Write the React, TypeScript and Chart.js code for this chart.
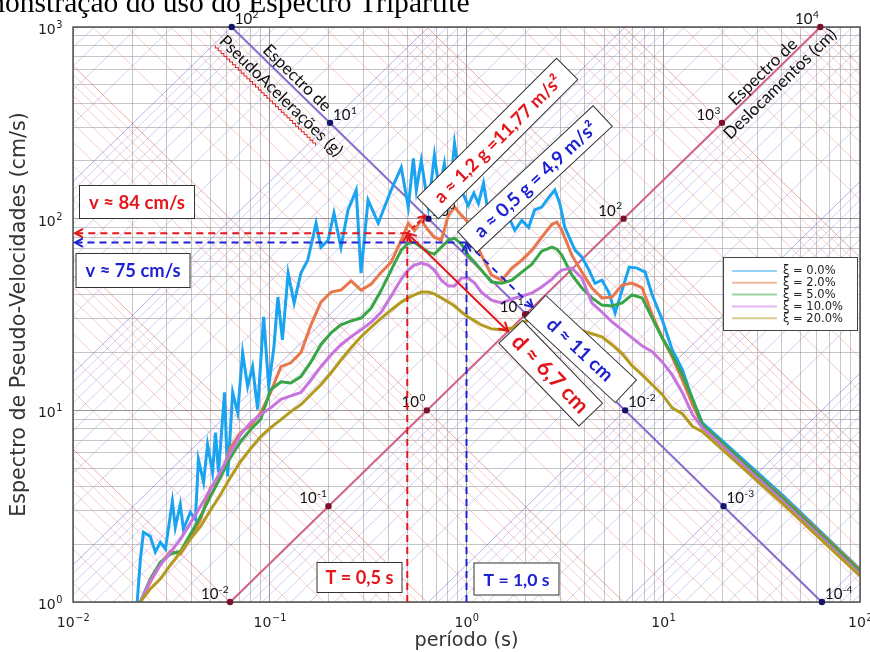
import React, { useEffect, useRef } from 'react';
import { Chart, registerables } from 'chart.js';

Chart.register(...registerables);

// ---------------- data ----------------
const seriesLabels = ['ξ = 0.0%', 'ξ = 2.0%', 'ξ = 5.0%', 'ξ = 10.0%', 'ξ = 20.0%'];
const seriesColors = ['#1AA3F0', '#E9774C', '#3AA547', '#C874DE', '#B39B1F'];
const legendColors = ['#92D2F7', '#F2B8A0', '#9DD3A3', '#E2B6EE', '#D9CC8F'];

// ξ = 0 % (own period grid, very jagged)
const periods0 = [
  0.0212, 0.022, 0.0228, 0.0247, 0.0262, 0.0278, 0.0295, 0.032, 0.0331, 0.0351,
  0.0364, 0.0395, 0.0419, 0.0434, 0.0461, 0.0483, 0.0512, 0.053, 0.0549, 0.0589,
  0.0611, 0.0648, 0.0687, 0.0728, 0.0772, 0.0818, 0.0868, 0.0931, 0.0988, 0.105,
  0.11, 0.116, 0.124, 0.133, 0.144, 0.156, 0.172, 0.182, 0.198, 0.212,
  0.23, 0.25, 0.275, 0.291, 0.316, 0.356, 0.414, 0.466, 0.506, 0.537,
  0.556, 0.589, 0.64, 0.687, 0.727, 0.772, 0.818, 0.869, 0.942, 1.02,
  1.09, 1.15, 1.22, 1.29, 1.39, 1.51, 1.64, 1.76, 1.91, 2.07,
  2.22, 2.41, 2.62, 2.81, 2.98, 3.16, 3.56, 3.86, 4.19, 4.5,
  4.88, 5.3, 5.69, 6.18, 6.71, 7.37, 8.09, 8.79, 9.89, 11.1,
  12.5, 14.1, 15.8, 40.5, 100,
];
const psv0 = [
  1.0, 1.67, 2.31, 2.2, 1.82, 2.05, 1.89, 3.35, 2.45, 3.23,
  2.4, 2.94, 2.7, 5.54, 4.21, 6.63, 4.74, 7.66, 4.74, 12.4,
  4.52, 12.4, 9.73, 19.9, 13.3, 16.9, 10.1, 30.7, 13.3, 21.4,
  39.0, 23.3, 52.0, 36.3, 52.0, 60.8, 94.7, 71.0, 77.2, 107,
  71.0, 111, 141, 52.0, 125, 94.7, 141, 185, 115, 206,
  141, 201, 115, 214, 141, 194, 125, 247, 141, 117,
  136, 120, 153, 107, 115, 94.7, 102, 87, 98, 90,
  111, 115, 129, 141, 120, 90, 68.5, 63, 54, 46,
  47.8, 41, 32.2, 42.4, 55.9, 55.2, 52.6, 40, 29.6, 20.7,
  16.3, 11.4, 8.6, 3.6, 1.48,
];

// shared period grid for the damped curves
const periods = [
  0.022, 0.0247, 0.0278, 0.0313, 0.0352, 0.0395, 0.0445, 0.05, 0.0562, 0.0632,
  0.0711, 0.08, 0.09, 0.101, 0.114, 0.128, 0.144, 0.162, 0.182, 0.205,
  0.23, 0.259, 0.291, 0.328, 0.369, 0.414, 0.466,
  0.506, 0.543, 0.589, 0.639, 0.686, 0.745, 0.809, 0.869, 0.943, 1.02, 1.1, 1.19,
  1.34, 1.51, 1.7, 1.91, 2.15, 2.41, 2.72,
  2.88, 3.05,
  3.43, 3.86, 4.34, 4.88, 5.49, 6.18, 6.95, 7.81, 8.79, 9.88, 11.1, 12.5, 14.1, 15.8,
  40.5, 100,
];
const psv2 = [
  1.0, 1.27, 1.58, 1.84, 1.78, 2.13, 2.7, 3.96, 4.47, 6.4,
  7.66, 8.33, 9.73, 12.4, 16.9, 17.7, 20.0, 27.9, 36.7, 41.4,
  42.4, 47.3, 42.4, 45.6, 52.6, 59.3, 77.2,
  94.6, 87.0, 98.1, 87.0, 80.0, 77.2, 104, 115, 104, 95.8, 77.2, 64.5,
  50.8, 47.8, 55.2, 60.8, 68.5, 80.0, 93.5,
  95.8, 87.0,
  64.5, 52.6, 43.5, 38.6, 39.0, 45.0, 46.1, 43.5, 31.5, 23.9, 19.0, 14.4, 10.7, 8.33,
  3.52, 1.47,
];
const psv5 = [
  1.0, 1.32, 1.61, 1.78, 1.84, 2.26, 2.8, 3.56, 4.47, 5.68,
  6.88, 7.94, 9.0, 12.8, 14.1, 13.9, 15.0, 17.9, 22.0, 25.4,
  27.9, 29.3, 30.3, 34.2, 42.4, 53.9, 68.5,
  74.5, 75.4, 71.0, 66.9, 65.3, 71.0, 77.2, 79.1, 73.6, 64.5, 59.3, 53.9,
  46.7, 46.1, 47.8, 52.6, 57.9, 67.7, 71.0,
  69.3, 64.5,
  50.8, 43.5, 38.6, 35.4, 35.0, 36.3, 40.0, 38.6, 30.3, 23.9, 19.5, 15.3, 11.4, 8.43,
  3.47, 1.45,
];
const psv10 = [
  1.0, 1.29, 1.56, 1.82, 2.13, 2.58, 3.16, 3.87, 4.8, 6.03,
  7.48, 8.63, 9.5, 10.3, 11.4, 11.9, 12.4, 14.4, 16.9, 19.5,
  22.0, 24.2, 26.3, 28.9, 32.6, 39.5, 48.4,
  53.9, 57.2, 58.6, 57.2, 53.9, 47.8, 44.5, 44.5, 49.0, 49.0, 46.1, 41.4,
  37.6, 36.3, 38.1, 39.5, 40.9, 44.0, 48.4,
  51.4, 53.9,
  55.2, 49.0, 36.3, 32.6, 28.9, 26.3, 23.9, 21.7, 20.2, 17.9, 15.3, 12.4, 9.5, 8.13,
  3.35, 1.4,
];
const psv20 = [
  1.0, 1.17, 1.32, 1.56, 1.82, 2.13, 2.48, 3.01, 3.64, 4.47,
  5.41, 6.32, 7.3, 8.13, 8.95, 9.85, 10.7, 12.1, 13.6, 15.7,
  18.3, 21.2, 24.2, 27.2, 30.3, 33.4, 36.7,
  38.6, 40.0, 41.4, 41.4, 40.5, 38.6, 36.7, 35.0, 32.6, 30.7, 29.3, 27.9,
  26.6, 26.3, 26.9, 28.6, 30.0, 31.1, 31.1,
  30.7, 29.6,
  27.9, 26.0, 25.1, 24.2, 22.0, 19.7, 17.1, 15.3, 13.6, 12.1, 10.3, 9.6, 8.23, 7.75,
  3.25, 1.37,
];

// axes (decade ticks, labelled 10^exp)
const xDecades = [0.01, 0.1, 1, 10, 100];
const xDecadeExps = [-2, -1, 0, 1, 2];
const yDecades = [1, 10, 100, 1000];
const yDecadeExps = [0, 1, 2, 3];

// tripartite axes
const accelAxisExps = [2, 1, 0, -1, -2, -3, -4]; // g
const accelAxisLabelled = [2, 1, 0, -2, -3, -4];
const dispAxisExps = [-2, -1, 0, 1, 2, 3, 4]; // cm
const gridMultipliers = [1, 2, 3, 4, 5, 6, 7, 8, 9];
const dispGridExps = [-3, -2, -1, 0, 1, 2, 3, 4];
const accelGridExps = [-5, -4, -3, -2, -1, 0, 1, 2];

// annotation readings
const redT = 0.5;
const redV = 84;
const blueT = 1.0;
const blueV = 75;

// ---------------- helpers ----------------
const G = 981;
const TWO_PI = 2 * Math.PI;
const A_ANCHOR_G = 100;
const A_ANCHOR_V = 1000;
const D_ANCHOR_CM = 1e4;
const D_ANCHOR_V = 1000;
const cA = A_ANCHOR_V * (TWO_PI * A_ANCHOR_V / (G * A_ANCHOR_G)); // V*T on accel axis
const kD = D_ANCHOR_V / (TWO_PI * D_ANCHOR_CM / D_ANCHOR_V); // V/T on disp axis

const accelPoint = (a: number) => {
  const T = Math.sqrt(TWO_PI * cA / (a * G));
  return { T, V: cA / T };
};
const dispPoint = (d: number) => {
  const T = Math.sqrt(TWO_PI * d / kD);
  return { T, V: kD * T };
};

const isDecade = (v: number, list: number[]) =>
  list.findIndex((d) => Math.abs(Math.log10(v) - Math.log10(d)) < 1e-6);

const buildTicks = (lo: number, hi: number) => {
  const out: number[] = [];
  for (let e = lo; e < hi; e++) for (const m of gridMultipliers) out.push(m * Math.pow(10, e));
  out.push(Math.pow(10, hi));
  return out;
};

const F_TICK = '"DejaVu Sans", sans-serif';
const F_NOTE = 'Lato, "Liberation Sans", sans-serif';
const F_TITLE = '"Liberation Serif", "Times New Roman", serif';
const RED = '#E3161C';
const BLUE = '#1E22D2';

function fitSize(ctx: CanvasRenderingContext2D, text: string, weight: string, family: string, target: number) {
  ctx.font = `${weight} 20px ${family}`;
  return (20 * target) / ctx.measureText(text).width;
}

function drawPow(
  ctx: CanvasRenderingContext2D, exp: number, x: number, y: number, size: number,
  align: 'left' | 'right' | 'center', family: string, color: string, minus: string, supScale = 0.68,
) {
  const sup = exp < 0 ? minus + Math.abs(exp) : String(exp);
  ctx.font = `${size}px ${family}`;
  const wb = ctx.measureText('10').width;
  ctx.font = `${size * supScale}px ${family}`;
  const ws = ctx.measureText(sup).width;
  const total = wb + ws;
  const x0 = align === 'left' ? x : align === 'right' ? x - total : x - total / 2;
  ctx.fillStyle = color;
  ctx.textAlign = 'left';
  ctx.textBaseline = 'alphabetic';
  ctx.font = `${size}px ${family}`;
  ctx.fillText('10', x0, y);
  ctx.font = `${size * supScale}px ${family}`;
  ctx.fillText(sup, x0 + wb + 0.5, y - size * 0.42);
}

function arrowHead(ctx: CanvasRenderingContext2D, x0: number, y0: number, x1: number, y1: number, size: number) {
  const ang = Math.atan2(y1 - y0, x1 - x0);
  ctx.save();
  ctx.setLineDash([]);
  ctx.beginPath();
  ctx.moveTo(x1 - size * Math.cos(ang - 0.5), y1 - size * Math.sin(ang - 0.5));
  ctx.lineTo(x1, y1);
  ctx.lineTo(x1 - size * Math.cos(ang + 0.5), y1 - size * Math.sin(ang + 0.5));
  ctx.stroke();
  ctx.restore();
}

function seg(ctx: CanvasRenderingContext2D, x0: number, y0: number, x1: number, y1: number) {
  ctx.beginPath();
  ctx.moveTo(x0, y0);
  ctx.lineTo(x1, y1);
  ctx.stroke();
}

function textBox(
  ctx: CanvasRenderingContext2D, text: string, color: string, cx: number, cy: number,
  angleDeg: number, bw: number, bh: number, tw: number,
) {
  ctx.save();
  ctx.translate(cx, cy);
  ctx.rotate((angleDeg * Math.PI) / 180);
  ctx.fillStyle = '#ffffff';
  ctx.fillRect(-bw / 2, -bh / 2, bw, bh);
  ctx.strokeStyle = '#333';
  ctx.lineWidth = 1;
  ctx.setLineDash([]);
  ctx.strokeRect(-bw / 2, -bh / 2, bw, bh);
  const size = Math.min(fitSize(ctx, text, 'bold', F_NOTE, tw), bh * 0.72);
  ctx.font = `bold ${size}px ${F_NOTE}`;
  ctx.fillStyle = color;
  ctx.textAlign = 'center';
  ctx.textBaseline = 'middle';
  ctx.fillText(text, 0, 1);
  ctx.restore();
}

function rotText(ctx: CanvasRenderingContext2D, text: string, cx: number, cy: number, angleDeg: number, tw: number, family: string, color: string, weight = 'normal') {
  ctx.save();
  ctx.translate(cx, cy);
  ctx.rotate((angleDeg * Math.PI) / 180);
  const size = fitSize(ctx, text, weight, family, tw);
  ctx.font = `${weight} ${size}px ${family}`;
  ctx.fillStyle = color;
  ctx.textAlign = 'center';
  ctx.textBaseline = 'middle';
  ctx.fillText(text, 0, 0);
  ctx.restore();
  return size;
}

// ---------------- overlay plugin ----------------
const overlayPlugin = {
  id: 'tripartiteOverlay',
  afterDatasetsDraw(chart: any) {
    const ctx: CanvasRenderingContext2D = chart.ctx;
    const ca = chart.chartArea;
    const xs = chart.scales.x;
    const ys = chart.scales.y;
    const px = (t: number) => xs.getPixelForValue(t);
    const py = (v: number) => ys.getPixelForValue(v);
    ctx.save();

    // frame
    ctx.strokeStyle = '#555';
    ctx.lineWidth = 1.5;
    ctx.strokeRect(ca.left, ca.top, ca.right - ca.left, ca.bottom - ca.top);

    // decade tick labels (math style 10^n) at the scales' tick positions
    xDecades.forEach((d, i) => {
      drawPow(ctx, xDecadeExps[i], px(d), ca.bottom + 25, 14, 'center', F_TICK, '#222', '\u2212', 0.7);
    });
    yDecades.forEach((d, i) => {
      drawPow(ctx, yDecadeExps[i], ca.left - 11, py(d) + 7, 14, 'right', F_TICK, '#222', '\u2212', 0.7);
    });

    // tripartite axis dots and labels
    for (const e of accelAxisExps) {
      const p = accelPoint(Math.pow(10, e));
      const x = px(p.T), y = py(p.V);
      ctx.fillStyle = '#14146A';
      ctx.beginPath();
      ctx.arc(x, y, 3.2, 0, TWO_PI);
      ctx.fill();
      if (accelAxisLabelled.includes(e)) drawPow(ctx, e, x + 3, y - 3, 15, 'left', F_NOTE, '#111', '-');
    }
    for (const e of dispAxisExps) {
      const p = dispPoint(Math.pow(10, e));
      const x = px(p.T), y = py(p.V);
      ctx.fillStyle = '#7E0F2A';
      ctx.beginPath();
      ctx.arc(x, y, 3.2, 0, TWO_PI);
      ctx.fill();
      drawPow(ctx, e, x - 2, y - 3, 15, 'right', F_NOTE, '#111', '-');
    }

    // tripartite axis titles
    const ang = (Math.atan2(py(1) - py(10), px(10) - px(1)) * 180) / Math.PI; // ~44°
    rotText(ctx, 'Espectro de', 297, 78, ang, 88, F_NOTE, '#111');
    const s2 = rotText(ctx, 'PseudoAcelerações (g)', 281, 96, ang, 165, F_NOTE, '#111');
    // spell-check squiggle
    ctx.save();
    ctx.translate(281, 96);
    ctx.rotate((ang * Math.PI) / 180);
    ctx.font = `${s2}px ${F_NOTE}`;
    const wAll = ctx.measureText('PseudoAcelerações (g)').width;
    const wWord = ctx.measureText('PseudoAcelerações').width;
    ctx.strokeStyle = '#E0201E';
    ctx.lineWidth = 1;
    ctx.beginPath();
    let k = 0;
    for (let xx = -wAll / 2; xx <= -wAll / 2 + wWord; xx += 2) {
      ctx.lineTo(xx, s2 * 0.62 + (k % 2 === 0 ? -1 : 1));
      k++;
    }
    ctx.stroke();
    ctx.restore();
    rotText(ctx, 'Espectro de', 763, 72, -ang, 88, F_NOTE, '#111');
    rotText(ctx, 'Deslocamentos (cm)', 780, 84, -ang, 150, F_NOTE, '#111');

    // ---- annotations ----
    const xr = px(redT), yr = py(redV);
    const xb = px(blueT), yb = py(blueV);
    ctx.lineWidth = 2;
    ctx.setLineDash([7, 5]);
    // red dashed
    ctx.strokeStyle = RED;
    seg(ctx, xr, yr, ca.left + 2, yr);
    seg(ctx, xr, ca.bottom, xr, yr + 1);
    // blue dashed
    ctx.strokeStyle = BLUE;
    seg(ctx, xb, yb, ca.left + 2, yb);
    seg(ctx, xb, ca.bottom, xb, yb + 1);
    // blue dashed to displacement axis
    const dB = dispPoint((blueV * blueT) / TWO_PI);
    seg(ctx, xb, yb, px(dB.T), py(dB.V));
    ctx.setLineDash([]);
    arrowHead(ctx, xb, yb, px(dB.T), py(dB.V), 9);
    arrowHead(ctx, ca.left + 20, yb, ca.left + 2, yb, 9);
    arrowHead(ctx, xb, yb + 20, xb, yb + 1, 9);
    ctx.strokeStyle = RED;
    arrowHead(ctx, ca.left + 20, yr, ca.left + 2, yr, 9);
    arrowHead(ctx, xr, yr + 20, xr, yr + 1, 9);
    // red dashed to acceleration axis
    const aR = accelPoint((TWO_PI * redV) / redT / G);
    ctx.setLineDash([4, 3]);
    seg(ctx, xr, yr, px(aR.T), py(aR.V));
    ctx.setLineDash([]);
    arrowHead(ctx, xr, yr, px(aR.T), py(aR.V), 8);
    // red solid to displacement axis
    const dR = dispPoint((redV * redT) / TWO_PI);
    seg(ctx, xr, yr, px(dR.T), py(dR.V));
    arrowHead(ctx, xr, yr, px(dR.T), py(dR.V), 10);
    arrowHead(ctx, px(dR.T), py(dR.V), xr, yr, 10);

    // text boxes
    textBox(ctx, 'v ≈ 84 cm/s', RED, 137, 202, 0, 115, 33, 96);
    textBox(ctx, 'v ≈ 75 cm/s', BLUE, 133, 270.5, 0, 114, 34, 95);
    textBox(ctx, 'T = 0,5 s', RED, 359.5, 577.5, 0, 85, 30, 68);
    textBox(ctx, 'T = 1,0 s', BLUE, 516.5, 579, 0, 85, 32, 66);
    textBox(ctx, 'a ≈ 1,2 g =11,77 m/s²', RED, 497.5, 138.5, -45, 197, 30, 172);
    textBox(ctx, 'a ≈ 0,5 g = 4,9 m/s²', BLUE, 535, 179, -43, 185, 28, 160);
    textBox(ctx, 'd ≈ 11 cm', BLUE, 580.5, 349, 43, 124, 31, 83);
    textBox(ctx, 'd ≈ 6,7 cm', RED, 550.75, 373.25, 46, 115, 33, 100);

    // legend
    const lx = ca.right - 137, ly = ca.top + 230, lw = 134, lh = 73;
    ctx.fillStyle = '#fff';
    ctx.fillRect(lx, ly, lw, lh);
    ctx.strokeStyle = '#444';
    ctx.lineWidth = 1;
    ctx.strokeRect(lx + 0.5, ly + 0.5, lw, lh);
    ctx.font = `11.5px ${F_TICK}`;
    ctx.textAlign = 'left';
    ctx.textBaseline = 'middle';
    seriesLabels.forEach((lab, i) => {
      const yy = ly + 14 + i * 11.8;
      ctx.strokeStyle = legendColors[i];
      ctx.lineWidth = 2;
      seg(ctx, lx + 9, yy, lx + 54, yy);
      ctx.fillStyle = '#222';
      ctx.fillText(lab, lx + 60, yy + 0.5);
    });

    // axis titles
    ctx.save();
    ctx.translate(20, (ca.top + ca.bottom) / 2);
    ctx.rotate(-Math.PI / 2);
    const sy = fitSize(ctx, 'Espectro de Pseudo-Velocidades (cm/s)', 'normal', F_TICK, 405);
    ctx.font = `${sy}px ${F_TICK}`;
    ctx.fillStyle = '#333';
    ctx.textAlign = 'center';
    ctx.textBaseline = 'middle';
    ctx.fillText('Espectro de Pseudo-Velocidades (cm/s)', 0, 0);
    ctx.restore();
    const sx = fitSize(ctx, 'período (s)', 'normal', F_TICK, 104);
    ctx.font = `${sx}px ${F_TICK}`;
    ctx.fillStyle = '#333';
    ctx.textAlign = 'center';
    ctx.textBaseline = 'middle';
    ctx.fillText('período (s)', (ca.left + ca.right) / 2, 641);

    // chart title (cut by the picture's left/top edge)
    const st = fitSize(ctx, 'onstração do uso do Espectro Tripartite', 'normal', F_TITLE, 465);
    ctx.font = `${st}px ${F_TITLE}`;
    const wDem = ctx.measureText('Dem').width;
    ctx.fillStyle = '#000';
    ctx.textAlign = 'left';
    ctx.textBaseline = 'alphabetic';
    ctx.fillText('Demonstração do uso do Espectro Tripartite', 5 - wDem, 12);

    ctx.restore();
  },
};

// ---------------- component ----------------
export default function App() {
  const ref = useRef<HTMLCanvasElement>(null);

  useEffect(() => {
    const canvas = ref.current;
    if (!canvas) return;
    Chart.defaults.font.family = F_TICK;

    const datasets: any[] = [];
    const curves = [
      { T: periods0, V: psv0 },
      { T: periods, V: psv2 },
      { T: periods, V: psv5 },
      { T: periods, V: psv10 },
      { T: periods, V: psv20 },
    ];
    curves.forEach((c, i) => {
      datasets.push({
        label: seriesLabels[i],
        data: c.T.map((t, j) => ({ x: t, y: c.V[j] })),
        borderColor: seriesColors[i],
        borderWidth: 3,
        pointRadius: 0,
        tension: 0,
        order: 10 - i * 2,
      });
    });

    // tripartite axes
    datasets.push({
      label: 'accel-axis',
      data: [0.005, 200].map((t) => ({ x: t, y: cA / t })),
      borderColor: '#6E62D6',
      borderWidth: 1.6,
      pointRadius: 0,
      order: 50,
    });
    datasets.push({
      label: 'disp-axis',
      data: [0.005, 200].map((t) => ({ x: t, y: kD * t })),
      borderColor: '#D9506F',
      borderWidth: 1.6,
      pointRadius: 0,
      order: 50,
    });

    // diagonal hatch: constant displacement (red) and constant acceleration (blue)
    for (const e of dispGridExps) {
      for (const m of gridMultipliers) {
        const d = m * Math.pow(10, e);
        datasets.push({
          label: 'd',
          data: [0.005, 200].map((t) => ({ x: t, y: (TWO_PI * d) / t })),
          borderColor: m === 1 ? 'rgba(225,80,80,0.55)' : 'rgba(235,110,110,0.40)',
          borderWidth: 0.9,
          pointRadius: 0,
          order: 100,
        });
      }
    }
    for (const e of accelGridExps) {
      for (const m of gridMultipliers) {
        const a = m * Math.pow(10, e);
        datasets.push({
          label: 'a',
          data: [0.005, 200].map((t) => ({ x: t, y: (a * G * t) / TWO_PI })),
          borderColor: m === 1 ? 'rgba(100,100,225,0.55)' : 'rgba(125,125,230,0.40)',
          borderWidth: 0.9,
          pointRadius: 0,
          order: 100,
        });
      }
    }

    const xTicks = buildTicks(-2, 2);
    const yTicks = buildTicks(0, 3);
    const gridColor = (list: number[]) => (c: any) =>
      c.tick && isDecade(c.tick.value, list) >= 0 ? 'rgba(85,85,85,0.6)' : 'rgba(120,120,120,0.42)';

    const chart = new Chart(canvas, {
      type: 'line',
      data: { datasets },
      options: {
        responsive: false,
        animation: false,
        devicePixelRatio: 1,
        layout: { padding: { top: 27, right: 10, left: 0, bottom: 0 } },
        plugins: {
          legend: { display: false },
          title: { display: false },
          tooltip: { enabled: false },
        },
        elements: { point: { radius: 0 }, line: { tension: 0 } },
        scales: {
          x: {
            type: 'logarithmic',
            min: 0.01,
            max: 100,
            afterBuildTicks: (s: any) => {
              s.ticks = xTicks.map((v) => ({ value: v }));
            },
            afterFit: (s: any) => {
              s.height = 50;
              s.paddingLeft = 0;
              s.paddingRight = 0;
            },
            grid: { color: gridColor(xDecades), lineWidth: 1, drawTicks: false },
            border: { display: false },
            ticks: { display: false, autoSkip: false },
          },
          y: {
            type: 'logarithmic',
            min: 1,
            max: 1000,
            afterBuildTicks: (s: any) => {
              s.ticks = yTicks.map((v) => ({ value: v }));
            },
            afterFit: (s: any) => {
              s.width = 73;
              s.paddingTop = 0;
              s.paddingBottom = 0;
            },
            grid: { color: gridColor(yDecades), lineWidth: 1, drawTicks: false },
            border: { display: false },
            ticks: { display: false, autoSkip: false },
          },
        },
      } as any,
      plugins: [overlayPlugin],
    });

    return () => chart.destroy();
  }, []);

  return (
    <canvas
      ref={ref}
      width={870}
      height={652}
      style={{ position: 'absolute', left: 0, top: 0, width: 870, height: 652, display: 'block', background: '#fff' }}
    />
  );
}
